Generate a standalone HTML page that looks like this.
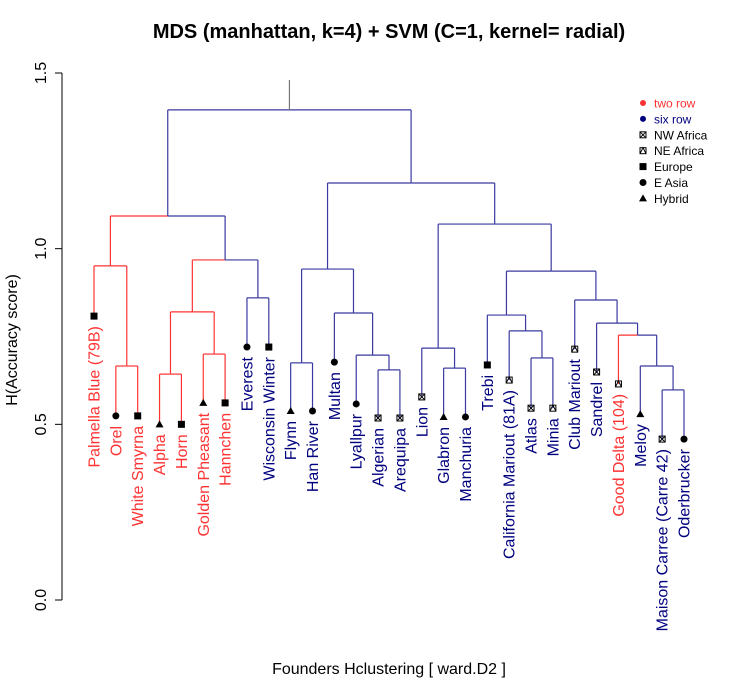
<!DOCTYPE html>
<html><head><meta charset="utf-8"><style>
body{margin:0;background:#fff;}
svg{display:block;font-family:"Liberation Sans",sans-serif;}
</style></head><body>
<svg id="chart" width="750" height="695" viewBox="0 0 750 695">
<text x="389" y="38" text-anchor="middle" font-size="20" font-weight="bold">MDS (manhattan, k=4) + SVM (C=1, kernel= radial)</text>
<text x="389" y="674" text-anchor="middle" font-size="16">Founders Hclustering [ ward.D2 ]</text>
<text transform="translate(17,340) rotate(-90)" text-anchor="middle" font-size="16">H(Accuracy score)</text>
<g id="axis"></g>
<g id="tree"></g>
<g id="leaves"></g>
<g id="legend"></g>
</svg>
<script>
const names=["Palmella Blue (79B)","Orel","White Smyrna","Alpha","Horn","Golden Pheasant","Hannchen","Everest","Wisconsin Winter","Flynn","Han River","Multan","Lyallpur","Algerian","Arequipa","Lion","Glabron","Manchuria","Trebi","California Mariout (81A)","Atlas","Minia","Club Mariout","Sandrel","Good Delta (104)","Meloy","Maison Carree (Carre 42)","Oderbrucker"];
const leafHeights=[0.808,0.524,0.524,0.50,0.50,0.561,0.561,0.72,0.72,0.538,0.538,0.677,0.558,0.518,0.518,0.578,0.521,0.521,0.669,0.626,0.546,0.546,0.714,0.649,0.615,0.529,0.458,0.458];
const rowType=["two","two","two","two","two","two","two","six","six","six","six","six","six","six","six","six","six","six","six","six","six","six","six","six","two","six","six","six"];
const region=["sq","ci","sq","tr","sq","tr","sq","ci","sq","tr","ci","ci","ci","nw","nw","nw","tr","ci","sq","ne","nw","ne","ne","nw","ne","tr","nw","ci"];
// merges: >=0 leaf index, negative -k = merge k (1-based)
const mergeLeft=[1,0,3,5,-3,7,-5,-2,9,13,12,11,-9,16,15,20,19,18,26,25,24,23,22,-18,-15,-13,-8];
const mergeRight=[2,-1,4,6,-4,8,-6,-7,10,14,-10,-11,-12,17,-14,21,-16,-17,27,-19,-20,-21,-22,-23,-24,-25,-26];
const mergeHeights=[0.666,0.951,0.643,0.700,0.820,0.860,0.968,1.093,0.675,0.655,0.697,0.817,0.942,0.660,0.717,0.689,0.766,0.811,0.598,0.666,0.754,0.788,0.854,0.936,1.070,1.187,1.395];
const rootTop=1.48;
const yTicks=[0,0.5,1.0,1.5];
const yTickLabels=["0.0","0.5","1.0","1.5"];
const legendLabels=["two row","six row","NW Africa","NE Africa","Europe","E Asia","Hybrid"];
const legendShapes=["dotR","dotB","nw","ne","sq","ci","tr"];

const NS="http://www.w3.org/2000/svg";
const RED="#ff3333",BLUE="#3a3aa0",TXTB="#00007f";
const yS=v=>600-351.33*v;
const xS=i=>94+i*(590/27);
function mk(tag,attrs,parent){const e=document.createElementNS(NS,tag);for(const k in attrs)e.setAttribute(k,attrs[k]);parent.appendChild(e);return e;}

// axis
const ax=document.getElementById('axis');
const axl=mk('line',{x1:62,y1:yS(1.5),x2:62,y2:yS(0),stroke:'#000'},ax);


yTicks.forEach((t,i)=>{
  const tl=mk('line',{x1:55,x2:62,y1:yS(t),y2:yS(t),stroke:'#000'},ax);
  
  
  const tx=mk('text',{transform:`translate(46,${yS(t)}) rotate(-90)`,'text-anchor':'middle','font-size':16},ax);
  tx.textContent=yTickLabels[i];
  
  
});

// tree
const tree=document.getElementById('tree');
const nodeX=[],nodeRed=[];
function info(r){ if(r>=0) return {x:xS(r),h:leafHeights[r],red:rowType[r]==="two"}; const k=-r-1; return {x:nodeX[k],h:mergeHeights[k],red:nodeRed[k]}; }
function seg(x1,y1,x2,y2,c){const l=mk('line',{x1,y1,x2,y2,stroke:c,'stroke-width':1.2},tree);
  
  }
mergeHeights.forEach((h,k)=>{
  const a=info(mergeLeft[k]),b=info(mergeRight[k]);
  const x=(a.x+b.x)/2;nodeX[k]=x;nodeRed[k]=a.red&&b.red;
  [a,b].forEach(c=>{const col=c.red?RED:BLUE;
    seg(c.x,yS(c.h),c.x,yS(h),col);
    seg(c.x,yS(h),x,yS(h),col);});
});
const last=mergeHeights.length-1;
seg(nodeX[last],yS(mergeHeights[last]),nodeX[last],yS(rootTop),'#777');

// markers
function marker(shape,x,y,g){
  let e;
  if(shape==="sq"){e=mk('rect',{x:x-3.5,y:y-3.5,width:7,height:7,fill:'#000'},g);}
  else if(shape==="ci"){e=mk('circle',{cx:x,cy:y,r:3.5,fill:'#000'},g);}
  else if(shape==="tr"){e=mk('polygon',{points:`${x-4},${y+3} ${x+4},${y+3} ${x},${y-4}`,fill:'#000'},g);}
  else if(shape==="nw"){e=mk('g',{},g);mk('rect',{x:x-3,y:y-3,width:6,height:6,fill:'none',stroke:'#000','stroke-width':1},e);
    mk('path',{d:`M${x-3} ${y-3}L${x+3} ${y+3}M${x+3} ${y-3}L${x-3} ${y+3}`,stroke:'#000','stroke-width':1},e);}
  else if(shape==="ne"){e=mk('g',{},g);mk('rect',{x:x-3,y:y-3,width:6,height:6,fill:'none',stroke:'#000','stroke-width':1},e);
    mk('path',{d:`M${x-3} ${y+3}L${x} ${y-3}L${x+3} ${y+3}`,stroke:'#000',fill:'none','stroke-width':1},e);}
  else {e=mk('circle',{cx:x,cy:y,r:3,fill:shape==="dotR"?RED:TXTB},g);}
  return e;
}
const lv=document.getElementById('leaves');
names.forEach((n,i)=>{
  const x=xS(i),y=yS(leafHeights[i]);
  const m=marker(region[i],x,y,lv);
  
  
  const t=mk('text',{transform:`translate(${x+5.5},${y+10}) rotate(-90)`,'text-anchor':'end','font-size':16,fill:rowType[i]==="two"?RED:TXTB},lv);
  t.textContent=n;
  
  
});

// legend
const lg=document.getElementById('legend');
legendLabels.forEach((l,i)=>{
  const y=103+i*15.9;
  const m=marker(legendShapes[i],643,y,lg);
  
  
  const t=mk('text',{x:654,y:y+4.5,'font-size':12,fill:i===0?RED:(i===1?TXTB:'#000')},lg);
  t.textContent=l;
  
  
});
</script>
</body></html>
